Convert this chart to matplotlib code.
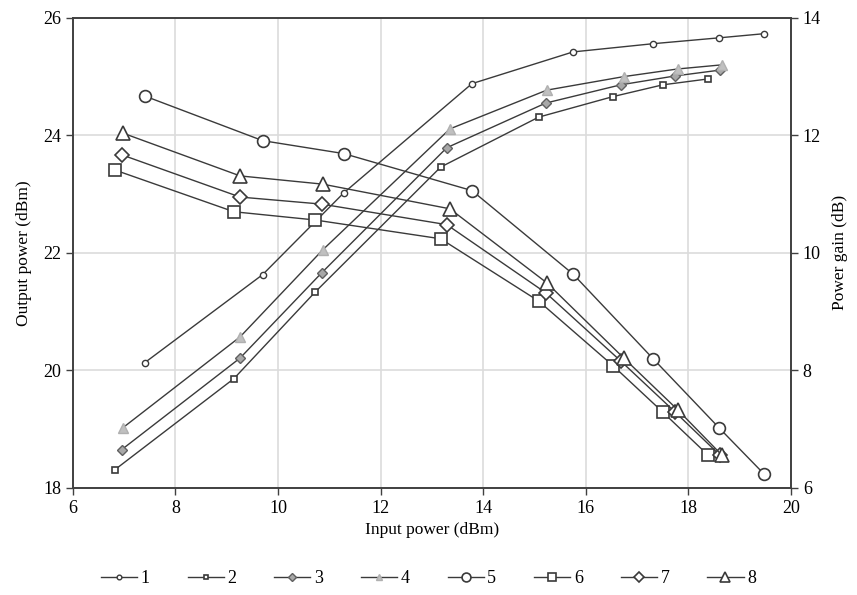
import numpy as np
import matplotlib
matplotlib.use("Agg")
import matplotlib.pyplot as plt

plt.rcParams['font.family'] = ['Liberation Serif', 'DejaVu Serif']

# output power series (left axis)
x1 = [7.40, 9.70, 11.28, 13.78, 15.75, 17.31, 18.60, 19.47]
y1 = [20.13, 21.63, 23.02, 24.88, 25.42, 25.56, 25.66, 25.73]
x2 = [6.82, 9.14, 10.72, 13.17, 15.08, 16.53, 17.50, 18.38]
y2 = [18.31, 19.86, 21.33, 23.46, 24.31, 24.66, 24.86, 24.96]
x3 = [6.95, 9.26, 10.85, 13.29, 15.22, 16.68, 17.73, 18.61]
y3 = [18.65, 20.21, 21.66, 23.79, 24.55, 24.86, 25.01, 25.11]
x4 = [6.97, 9.26, 10.87, 13.35, 15.24, 16.74, 17.79, 18.65]
y4 = [19.02, 20.57, 22.05, 24.11, 24.77, 25.00, 25.13, 25.20]

# power gain series (right axis)
g5 = [12.67, 11.91, 11.69, 11.06, 9.64, 8.20, 7.02, 6.24]
g6 = [11.41, 10.70, 10.56, 10.24, 9.18, 8.08, 7.29, 6.56]
g7 = [11.67, 10.95, 10.83, 10.48, 9.32, 8.16, 7.30, 6.56]
g8 = [12.04, 11.31, 11.17, 10.75, 9.49, 8.21, 7.33, 6.56]

labels = ['1', '2', '3', '4', '5', '6', '7', '8']

lc = '#3a3a3a'
fig = plt.figure(figsize=(8.57, 5.95), dpi=100)
ax = fig.add_axes([0.085, 0.180, 0.838, 0.790])
ax2 = ax.twinx()

h = []
h += ax.plot(x1, y1, color=lc, lw=1, marker='o', ms=4.5, mfc='white', mec=lc, mew=1, label=labels[0])
h += ax.plot(x2, y2, color=lc, lw=1, marker='s', ms=4.5, mfc='white', mec=lc, mew=1.2, label=labels[1])
h += ax.plot(x3, y3, color=lc, lw=1, marker='D', ms=5.5, mfc='#a8a8a8', mec='#606060', mew=1, label=labels[2])
h += ax.plot(x4, y4, color=lc, lw=1, marker='^', ms=6.5, mfc='#c0c0c0', mec='#b0b0b0', mew=1, label=labels[3])

h += ax2.plot(x1, g5, color=lc, lw=1, marker='o', ms=8.5, mfc='white', mec=lc, mew=1.2, label=labels[4])
h += ax2.plot(x2, g6, color=lc, lw=1, marker='s', ms=8, mfc='white', mec=lc, mew=1.2, label=labels[5])
h += ax2.plot(x3, g7, color=lc, lw=1, marker='D', ms=7, mfc='white', mec=lc, mew=1.2, label=labels[6])
h += ax2.plot(x4, g8, color=lc, lw=1, marker='^', ms=9.5, mfc='white', mec=lc, mew=1.2, label=labels[7])

ax.set_xlim(6, 20)
ax.set_ylim(18, 26)
ax2.set_ylim(6, 14)
ax.set_xticks(np.arange(6, 21, 2))
ax.set_yticks(np.arange(18, 27, 2))
ax2.set_yticks(np.arange(6, 15, 2))
ax.grid(True, color='#dcdcdc', lw=1.2)
ax.set_axisbelow(True)

for a in (ax, ax2):
    for s in a.spines.values():
        s.set_color('#404040')
        s.set_linewidth(1.2)
    a.tick_params(labelsize=13, direction='out', length=5, color='#404040', width=1)

ax.set_xlabel('Input power (dBm)', fontsize=12.5, labelpad=4)
ax.set_ylabel('Output power (dBm)', fontsize=12.5, labelpad=8)
ax2.set_ylabel('Power gain (dB)', fontsize=12.5, labelpad=8)

fig.legend(handles=h, loc='center', bbox_to_anchor=(0.5, 0.028), ncol=8, frameon=False,
           fontsize=13, handlelength=2.0, columnspacing=2.1, handletextpad=0.2,
           markerscale=0.75)

fig.savefig('out.png', dpi=100)
